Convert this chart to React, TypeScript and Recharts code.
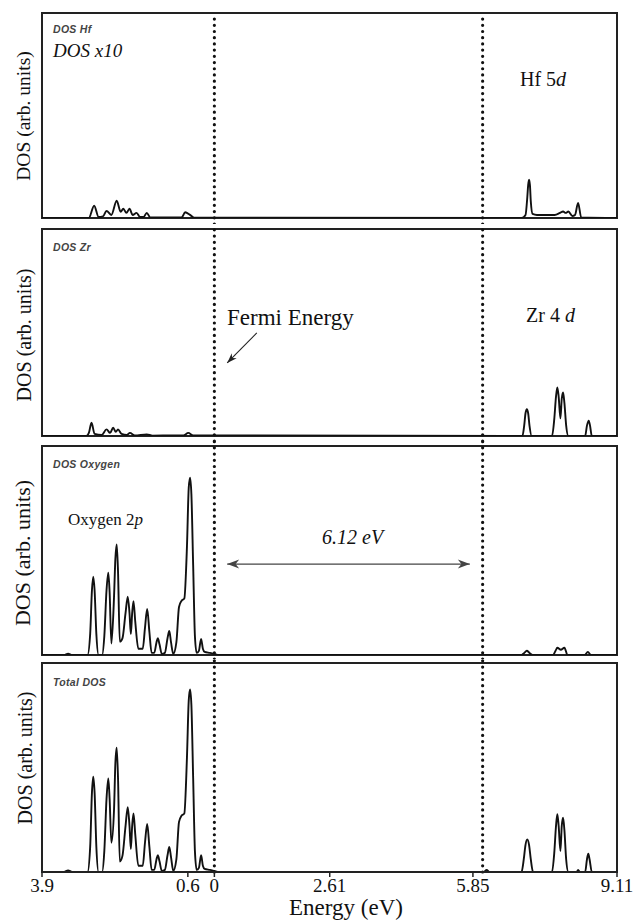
import type { ReactNode } from 'react';
import { LineChart, Line, XAxis, YAxis, ReferenceLine, ReferenceArea } from 'recharts';

const SERIF = '"Liberation Serif", "DejaVu Serif", serif';
const SANS = '"Liberation Sans", Arial, sans-serif';

// energy axis (eV)
const E_MIN = -3.9;
const E_MAX = 9.11;
const tickValues = [-3.9, -0.6, 0, 2.61, 5.85, 9.11];
const tickLabels = ['3.9', '0.6', '0', '2.61', '5.85', '9.11'];

const fermiLevel = 0;
const conductionEdge = 6.07;

// Hf partial DOS (x10)
const hfEnergy = [-3.9, -2.84, -2.72, -2.62, -2.52, -2.44, -2.33, -2.21, -2.12, -2.06, -1.99, -1.92, -1.85, -1.76, -1.68, -1.6, -1.53, -1.45, -0.74, -0.66, -0.55, -0.46, 6.95, 7.04, 7.08, 7.1, 7.12, 7.14, 7.16, 7.2, 7.3, 7.7, 7.82, 7.89, 7.95, 8.01, 8.1, 8.16, 8.23, 8.3, 9.11];
const hfDos = [0, 0, 6, 0.5, 0.8, 3.5, 1.5, 8.4, 3, 4.5, 2.5, 4.5, 1.5, 2.5, 0.5, 0.5, 2.5, 0.3, 0.3, 2.8, 1.5, 0.2, 0, 1.5, 10, 16, 18.7, 16, 8, 2, 1.5, 1.5, 2.5, 3.2, 2.5, 3.2, 1, 1.5, 7.3, 0.3, 0];

// Zr partial DOS
const zrEnergy = [-3.9, -2.9, -2.84, -2.78, -2.71, -2.55, -2.44, -2.36, -2.29, -2.23, -2.18, -2.1, -1.98, -1.91, -1.8, -1.53, -1.4, -0.7, -0.59, -0.48, 6.9, 6.97, 7.01, 7.04, 7.07, 7.1, 7.13, 7.18, 7.64, 7.69, 7.73, 7.76, 7.79, 7.83, 7.86, 7.89, 7.92, 7.96, 8.01, 8.39, 8.43, 8.47, 8.5, 8.54, 9.11];
const zrDos = [0, 0, 1.5, 6.4, 1, 0.5, 3.2, 1.5, 4, 2, 3.2, 1, 0.5, 1.5, 0.3, 0.8, 0.2, 0.3, 1.5, 0.3, 0, 0, 5, 11, 12.9, 11, 5, 0, 0, 8, 19, 23.5, 19, 8.5, 18, 21, 16, 5, 0, 0, 5, 7.4, 5, 0, 0];

// Oxygen partial DOS
const oxEnergy = [-3.9, -3.4, -3.31, -3.22, -2.87, -2.81, -2.77, -2.74, -2.71, -2.67, -2.62, -2.54, -2.49, -2.44, -2.4, -2.37, -2.33, -2.27, -2.24, -2.21, -2.18, -2.14, -2.08, -2.01, -1.96, -1.92, -1.89, -1.86, -1.83, -1.79, -1.72, -1.62, -1.57, -1.52, -1.47, -1.42, -1.36, -1.31, -1.28, -1.24, -1.19, -1.12, -1.06, -1.02, -0.98, -0.93, -0.86, -0.8, -0.74, -0.68, -0.62, -0.58, -0.55, -0.52, -0.48, -0.44, -0.4, -0.35, -0.3, -0.26, -0.22, -0.1, 0, 0.1, 6.95, 7.01, 7.07, 7.13, 7.2, 7.66, 7.72, 7.76, 7.84, 7.92, 7.99, 8.38, 8.45, 8.52, 9.11];
const oxDos = [0, 0, 0.6, 0, 0, 10, 31, 37.5, 31, 10, 0, 0, 9, 31, 39.4, 30, 5.5, 28, 46, 52.9, 40, 6.4, 8, 20, 27.9, 20, 10, 20, 25.8, 16, 3, 3, 13, 22, 11, 1, 1, 6, 8, 5, 0.5, 1, 8, 11.5, 6, 0.5, 6, 23, 26, 27, 52, 80, 84.8, 77, 43, 9, 1, 2, 7.7, 3, 1.5, 1, 0.5, 0, 0, 1, 2, 1, 0, 0, 2, 3.5, 2.5, 3.5, 0, 0, 1.5, 0, 0];

// Total DOS
const totEnergy = [-3.9, -3.4, -3.31, -3.22, -2.87, -2.81, -2.77, -2.74, -2.71, -2.67, -2.62, -2.54, -2.49, -2.44, -2.4, -2.37, -2.33, -2.27, -2.24, -2.21, -2.18, -2.14, -2.08, -2.01, -1.96, -1.92, -1.89, -1.86, -1.83, -1.79, -1.72, -1.62, -1.57, -1.52, -1.47, -1.42, -1.36, -1.31, -1.28, -1.24, -1.19, -1.12, -1.06, -1.02, -0.98, -0.93, -0.86, -0.8, -0.74, -0.68, -0.62, -0.58, -0.55, -0.52, -0.48, -0.44, -0.4, -0.35, -0.3, -0.26, -0.22, -0.1, 0, 0.1, 6.1, 6.16, 6.22, 6.95, 7.0, 7.04, 7.08, 7.12, 7.16, 7.21, 7.64, 7.69, 7.73, 7.76, 7.79, 7.83, 7.86, 7.89, 7.92, 7.96, 8.01, 8.2, 8.23, 8.27, 8.39, 8.43, 8.46, 8.49, 8.54, 9.11];
const totDos = [0, 0, 0.8, 0, 0, 12, 38, 45.6, 38, 12, 0, 0, 10, 35, 44.8, 35, 14, 30, 52, 59.5, 45, 5, 7.7, 22, 31, 22, 11, 22, 28, 18, 3, 3, 14, 23, 12, 1, 1, 6, 8, 5, 0.5, 1, 8, 12, 7, 0.5, 6, 24, 27, 28, 55, 82, 87.4, 80, 45, 10, 1, 2, 8, 3, 1.5, 1, 0.5, 0, 0, 1, 0, 0, 6, 13, 15.6, 13, 6, 0, 0, 9, 22, 27.6, 22, 10, 22, 26, 20, 6, 0, 0, 1, 0, 0, 6, 8.8, 6, 0, 0];

const WIDTH = 634;
const PLOT_LEFT = 42;
const PLOT_RIGHT = 617;

// arrow drawn along a ReferenceLine segment
const makeArrow = (color: string, width: number, headLen: number, headW: number, both: boolean) =>
  (props: any) => {
    const { x1, y1, x2, y2 } = props;
    const len = Math.hypot(x2 - x1, y2 - y1) || 1;
    const ux = (x2 - x1) / len;
    const uy = (y2 - y1) / len;
    const px = -uy;
    const py = ux;
    const head = (tx: number, ty: number, dx: number, dy: number) => {
      const bx = tx - dx * headLen;
      const by = ty - dy * headLen;
      const nx = tx - dx * headLen * 0.7;
      const ny = ty - dy * headLen * 0.7;
      return `${tx},${ty} ${bx + (px * headW) / 2},${by + (py * headW) / 2} ${nx},${ny} ${bx - (px * headW) / 2},${by - (py * headW) / 2}`;
    };
    return (
      <g>
        <line x1={x1} y1={y1} x2={x2} y2={y2} stroke={color} strokeWidth={width} />
        <polygon points={head(x2, y2, ux, uy)} fill={color} />
        {both && <polygon points={head(x1, y1, -ux, -uy)} fill={color} />}
      </g>
    );
  };

interface PanelProps {
  energy: number[];
  dos: number[];
  svgTop: number;
  svgHeight: number;
  plotTop: number;
  plotBottom: number;
  first?: boolean;
  last?: boolean;
  children?: ReactNode;
}

function DosPanel({ energy, dos, svgTop, svgHeight, plotTop, plotBottom, first, last, children }: PanelProps) {
  const data = energy.map((e, i) => ({ e, dos: dos[i] }));
  const plotH = plotBottom - plotTop;
  const axisH = last ? svgHeight - (plotBottom - svgTop) : 0;
  const marginTop = plotTop - svgTop;
  const marginBottom = last ? 0 : svgTop + svgHeight - plotBottom;
  // let the dotted lines run through the gaps between panels
  const extTop = first ? 0 : (marginTop / plotH) * 100;
  const extBottom = last ? 0 : (marginBottom / plotH) * 100;

  return (
    <div style={{ position: 'absolute', left: 0, top: svgTop }}>
      <LineChart
        width={WIDTH}
        height={svgHeight}
        data={data}
        margin={{ top: marginTop, right: WIDTH - PLOT_RIGHT, bottom: marginBottom, left: PLOT_LEFT }}
      >
        <XAxis
          dataKey="e"
          type="number"
          domain={[E_MIN, E_MAX]}
          ticks={tickValues}
          interval={0}
          allowDataOverflow
          hide={!last}
          height={axisH || 30}
          tickFormatter={(v: number) => tickLabels[tickValues.indexOf(v)]}
          tick={{ fontFamily: SERIF, fontSize: 19, fill: '#111' }}
          tickSize={5}
          tickLine={{ stroke: '#222', strokeWidth: 1.5 }}
          axisLine={{ stroke: '#222', strokeWidth: 2 }}
        />
        <YAxis hide domain={[0, 100]} allowDataOverflow />
        <ReferenceArea
          x1={E_MIN}
          x2={E_MAX}
          y1={0}
          y2={100}
          fill="none"
          fillOpacity={0}
          stroke="#222"
          strokeWidth={2}
          ifOverflow="visible"
        />
        {[fermiLevel, conductionEdge].map((x) => (
          <ReferenceLine
            key={x}
            segment={[{ x, y: -extBottom }, { x, y: 100 + extTop }]}
            stroke="#111"
            strokeWidth={3.2}
            strokeDasharray="0.01 6.2"
            strokeLinecap="round"
            ifOverflow="visible"
          />
        ))}
        <Line
          type="monotone"
          dataKey="dos"
          stroke="#111"
          strokeWidth={1.9}
          dot={false}
          activeDot={false}
          isAnimationActive={false}
        />
        {children}
      </LineChart>
    </div>
  );
}

function Note({ x, y, size, italic, sans, bold, color, children }: {
  x: number; y: number; size: number; italic?: boolean; sans?: boolean; bold?: boolean; color?: string; children: ReactNode;
}) {
  return (
    <div
      style={{
        position: 'absolute',
        left: x,
        top: y,
        transform: 'translateY(-50%)',
        fontFamily: sans ? SANS : SERIF,
        fontSize: size,
        fontStyle: italic ? 'italic' : 'normal',
        fontWeight: bold ? 700 : 400,
        letterSpacing: sans ? 0.3 : 0,
        color: color || '#111',
        whiteSpace: 'nowrap',
        lineHeight: 1.15,
      }}
    >
      {children}
    </div>
  );
}

function AxisTitle({ cx, cy, size }: { cx: number; cy: number; size: number }) {
  return (
    <div
      style={{
        position: 'absolute',
        left: cx,
        top: cy,
        transform: 'translate(-50%, -50%) rotate(-90deg)',
        fontFamily: SERIF,
        fontSize: size,
        color: '#111',
        whiteSpace: 'nowrap',
        lineHeight: 1,
      }}
    >
      DOS (arb. units)
    </div>
  );
}

export default function App() {
  return (
    <div style={{ position: 'absolute', left: 0, top: 0, width: WIDTH, height: 922, background: '#fff' }}>
      <DosPanel energy={hfEnergy} dos={hfDos} svgTop={0} svgHeight={224} plotTop={13} plotBottom={218} first />
      <DosPanel energy={zrEnergy} dos={zrDos} svgTop={224} svgHeight={217} plotTop={229} plotBottom={436}>
        <ReferenceLine
          segment={[{ x: 0.96, y: 49.8 }, { x: 0.29, y: 35.3 }]}
          shape={makeArrow('#222', 1.1, 10, 7, false)}
        />
      </DosPanel>
      <DosPanel energy={oxEnergy} dos={oxDos} svgTop={441} svgHeight={218} plotTop={446} plotBottom={655}>
        <ReferenceLine
          segment={[{ x: 0.29, y: 43.5 }, { x: 5.78, y: 43.5 }]}
          shape={makeArrow('#444', 1.3, 12, 9, true)}
        />
      </DosPanel>
      <DosPanel energy={totEnergy} dos={totDos} svgTop={659} svgHeight={263} plotTop={663} plotBottom={872} last />

      <AxisTitle cx={24} cy={116} size={19.5} />
      <AxisTitle cx={24} cy={335} size={20} />
      <AxisTitle cx={23} cy={553} size={22} />
      <AxisTitle cx={25} cy={758} size={20} />

      <Note x={53} y={29} size={10.5} sans bold italic color="#444">DOS Hf</Note>
      <Note x={53} y={51} size={19} italic>DOS x10</Note>
      <Note x={520} y={79} size={20}>Hf 5<i>d</i></Note>

      <Note x={53} y={247} size={10.5} sans bold italic color="#444">DOS Zr</Note>
      <Note x={227} y={318} size={23}>Fermi Energy</Note>
      <Note x={526} y={315} size={20}>Zr 4 <i>d</i></Note>

      <Note x={53} y={464} size={10.5} sans bold italic color="#444">DOS Oxygen</Note>
      <Note x={68} y={520} size={17}>Oxygen 2<i>p</i></Note>
      <Note x={322} y={537} size={20} italic>6.12 eV</Note>

      <Note x={53} y={682} size={10.5} sans bold italic color="#444">Total DOS</Note>

      <div
        style={{
          position: 'absolute',
          left: 346,
          top: 908,
          transform: 'translate(-50%, -50%)',
          fontFamily: SERIF,
          fontSize: 23,
          color: '#111',
          whiteSpace: 'nowrap',
        }}
      >
        Energy (eV)
      </div>
    </div>
  );
}
